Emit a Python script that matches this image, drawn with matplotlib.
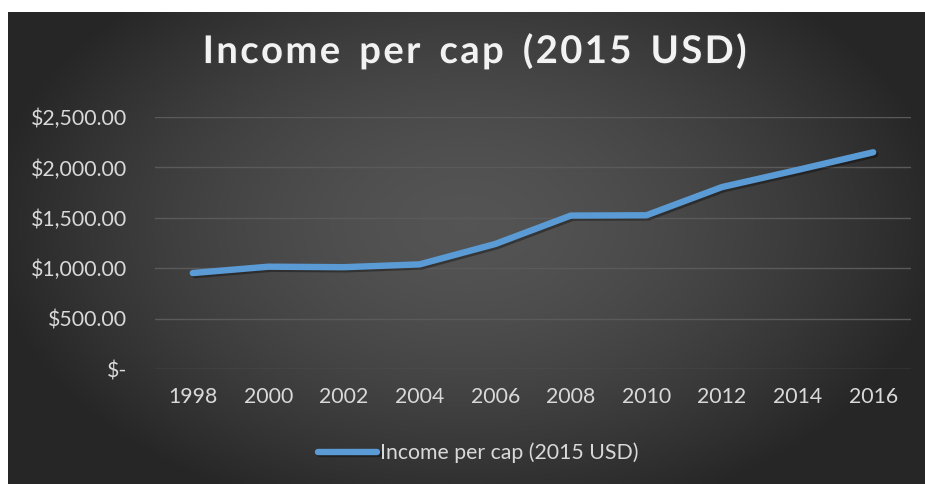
import numpy as np
import matplotlib.pyplot as plt
import matplotlib.patheffects as pe
from matplotlib.ticker import FuncFormatter

years = ['1998', '2000', '2002', '2004', '2006', '2008', '2010', '2012', '2014', '2016']
income = [952, 1015, 1010, 1038, 1240, 1522, 1525, 1805, 1975, 2150]
y_ticks = [0, 500, 1000, 1500, 2000, 2500]

W, H = 925, 484
fig = plt.figure(figsize=(W / 100, H / 100), dpi=100, facecolor='white')
plt.rcParams['font.family'] = ['Lato', 'DejaVu Sans']

# dark radial background, offset from the top-left corner
bg = fig.add_axes([8 / W, 0, 1 - 8 / W, (H - 12) / H])
bg.set_axis_off()
yy, xx = np.mgrid[-1:1:300j, -1:1:600j]
r = np.sqrt((xx / 1.05) ** 2 + ((yy + 0.1) / 1.3) ** 2)
r = np.clip(r, 0, 1)
shade = 0.33 - 0.18 * r ** 1.6
bg.imshow(np.dstack([shade] * 3), aspect='auto', extent=[0, 1, 0, 1], interpolation='bicubic')
bg.set_xlim(0, 1)
bg.set_ylim(0, 1)

ax = fig.add_axes([155 / W, 115 / H, 756 / W, 252 / H])
ax.patch.set_alpha(0)
x = np.arange(len(years))
line, = ax.plot(x, income, color='#5b9bd5', lw=4.6, solid_capstyle='round',
                solid_joinstyle='round', label='Income per cap (2015 USD)',
                path_effects=[pe.SimpleLineShadow(offset=(1.5, -1.5), shadow_color='black', alpha=0.35),
                              pe.Normal()])
ax.set_xlim(-0.5, len(years) - 0.5)
ax.set_ylim(0, 2500)
ax.set_yticks(y_ticks)
ax.yaxis.set_major_formatter(FuncFormatter(lambda v, p: '$-' if v == 0 else f'${v:,.2f}'))
ax.set_xticks(x)
ax.set_xticklabels(years)
ax.grid(axis='y', color='#5a5a5a', lw=1)
ax.set_axisbelow(True)
for s in ax.spines.values():
    s.set_visible(False)
ax.tick_params(length=0, colors='#d9d9d9', labelsize=15.3)
ax.tick_params(axis='y', pad=20)
ax.tick_params(axis='x', pad=13)

title = 'Income per cap (2015 USD)'
spaced = '\u200a'.join(title).replace('\u200a \u200a', '\u2002')
fig.text(475 / W, (H - 51) / H, spaced,
         ha='center', va='center', color='#f2f2f2', fontsize=27.5, fontweight='bold',
         path_effects=[pe.withSimplePatchShadow(offset=(1, -1), alpha=0.4)])

leg = fig.legend(handles=[line], loc='center', bbox_to_anchor=(478 / W, (H - 453) / H),
                 frameon=False, fontsize=15.3, handlelength=2.8, handletextpad=0.1)
for t in leg.get_texts():
    t.set_color('#d9d9d9')

fig.savefig('out.png', dpi=100, facecolor='white')
